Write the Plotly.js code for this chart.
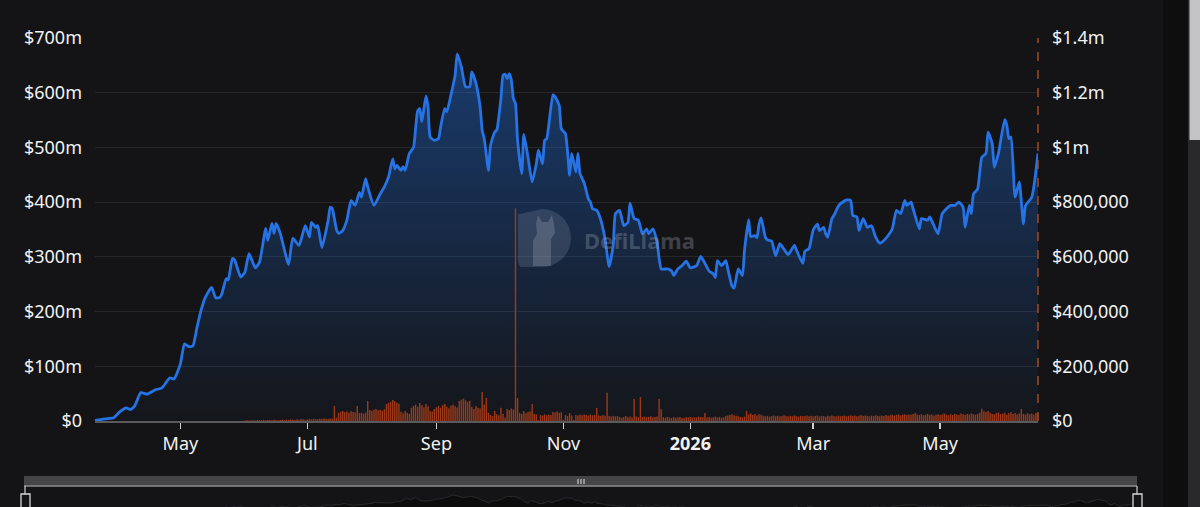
<!DOCTYPE html>
<html>
<head>
<meta charset="utf-8">
<script src="https://cdn.plot.ly/plotly-3.0.1.min.js"></script>
<style>
  html, body { margin: 0; padding: 0; background: #141416; overflow: hidden; }
  #chart { width: 1200px; height: 507px; }
</style>
</head>
<body>
<div id="chart"></div>
<script>
// ---------- DATA ----------
// TVL (in $ millions)
const tvlDates = [
  '2025-03-21','2025-03-26','2025-03-30','2025-04-02','2025-04-05','2025-04-07','2025-04-09','2025-04-12','2025-04-15','2025-04-19','2025-04-22','2025-04-26','2025-04-28',
  '2025-05-01','2025-05-03','2025-05-05','2025-05-07','2025-05-09','2025-05-11','2025-05-13','2025-05-16','2025-05-18','2025-05-20','2025-05-21','2025-05-23','2025-05-24','2025-05-26','2025-05-27','2025-05-30',
  '2025-06-01','2025-06-03','2025-06-06','2025-06-08','2025-06-11','2025-06-12','2025-06-14','2025-06-15','2025-06-16','2025-06-18','2025-06-22','2025-06-24','2025-06-27','2025-06-30',
  '2025-07-02','2025-07-03','2025-07-05','2025-07-06','2025-07-08','2025-07-11','2025-07-12','2025-07-13','2025-07-15','2025-07-16','2025-07-18','2025-07-20','2025-07-22','2025-07-24','2025-07-26','2025-07-27','2025-07-29','2025-07-30',
  '2025-08-02','2025-08-05','2025-08-07','2025-08-09','2025-08-11','2025-08-12','2025-08-13','2025-08-15','2025-08-16','2025-08-17','2025-08-19','2025-08-21','2025-08-22','2025-08-23','2025-08-24','2025-08-25','2025-08-27','2025-08-28','2025-08-29','2025-08-31',
  '2025-09-02','2025-09-03','2025-09-05','2025-09-06','2025-09-08','2025-09-10','2025-09-11','2025-09-13','2025-09-15','2025-09-17','2025-09-18','2025-09-20','2025-09-22','2025-09-23','2025-09-24','2025-09-26','2025-09-27','2025-09-29','2025-09-30',
  '2025-10-02','2025-10-03','2025-10-04','2025-10-05','2025-10-06','2025-10-07','2025-10-08','2025-10-09','2025-10-10','2025-10-12','2025-10-13','2025-10-15','2025-10-17','2025-10-19','2025-10-20','2025-10-22','2025-10-23','2025-10-24','2025-10-27','2025-10-28','2025-10-30','2025-10-31',
  '2025-11-02','2025-11-04','2025-11-05','2025-11-07','2025-11-08','2025-11-09','2025-11-11','2025-11-13','2025-11-14','2025-11-15','2025-11-17','2025-11-19','2025-11-21','2025-11-23','2025-11-25','2025-11-26','2025-11-28','2025-11-30',
  '2025-12-02','2025-12-03','2025-12-05','2025-12-07','2025-12-09','2025-12-11','2025-12-12','2025-12-14','2025-12-16','2025-12-18','2025-12-21','2025-12-23','2025-12-24','2025-12-26','2025-12-28','2025-12-30',
  '2026-01-01','2026-01-04','2026-01-06','2026-01-08','2026-01-10','2026-01-12','2026-01-13','2026-01-14','2026-01-16','2026-01-18','2026-01-19','2026-01-21','2026-01-22','2026-01-24','2026-01-26','2026-01-27','2026-01-29','2026-01-30',
  '2026-02-01','2026-02-02','2026-02-03','2026-02-04','2026-02-06','2026-02-07','2026-02-09','2026-02-11','2026-02-13','2026-02-16','2026-02-17','2026-02-20','2026-02-21','2026-02-24','2026-02-25','2026-02-27',
  '2026-03-01','2026-03-03','2026-03-04','2026-03-06','2026-03-07','2026-03-08','2026-03-10','2026-03-11','2026-03-13','2026-03-14','2026-03-17','2026-03-19','2026-03-20','2026-03-22','2026-03-23','2026-03-25','2026-03-27','2026-03-29','2026-03-31',
  '2026-04-02','2026-04-04','2026-04-06','2026-04-08','2026-04-10','2026-04-12','2026-04-14','2026-04-15','2026-04-17','2026-04-18','2026-04-21','2026-04-22','2026-04-25','2026-04-26','2026-04-28','2026-04-30',
  '2026-05-02','2026-05-04','2026-05-06','2026-05-08','2026-05-10','2026-05-12','2026-05-13','2026-05-15','2026-05-16','2026-05-17','2026-05-19','2026-05-21','2026-05-23','2026-05-24','2026-05-26','2026-05-27','2026-05-29',
  '2026-06-01','2026-06-02','2026-06-03','2026-06-04','2026-06-06','2026-06-08','2026-06-10','2026-06-11','2026-06-14','2026-06-17'
];
const tvlMillions = [
  1,4,6,17,24,21,27,52,49,57,60,79,77,
  104,141,136,137,171,203,226,244,225,226,233,260,258,297,295,263,
  272,306,280,290,352,330,361,343,361,343,286,334,321,357,
  336,363,354,357,317,367,391,388,350,343,348,367,403,394,418,409,443,428,
  394,415,428,446,479,461,467,458,465,458,489,500,534,567,571,547,594,574,519,513,
  516,537,571,565,596,632,671,647,611,611,638,617,574,531,516,458,504,528,532,
  589,632,634,626,635,623,589,580,513,452,524,482,437,470,495,470,513,516,596,593,577,534,
  525,449,489,455,489,452,435,406,400,388,385,367,333,282,324,379,385,357,
  363,398,370,367,342,351,342,351,327,278,278,274,266,278,284,292,
  280,284,301,288,274,269,262,293,284,293,278,247,243,278,266,312,368,337,
  339,335,360,371,336,331,329,302,324,308,304,321,312,288,310,315,
  349,360,348,354,342,336,370,376,392,397,404,403,376,373,348,370,354,357,336,
  325,330,339,351,385,379,403,394,400,388,351,370,367,373,357,342,
  379,388,394,394,400,391,354,394,379,415,424,482,489,528,507,464,489,
  551,541,516,519,409,437,360,394,409,489
];

// Daily bars (in $ thousands), right axis, starting 2025-06-01
const feeStart = '2025-06-01';
const feeThousands = [
  2,3,2,3,3,2,4,3,3,4, 3,4,4,3,5,4,3,4,5,4, 5,4,6,5,4,6,5,7,6,5, 6,7,6,8,7,6,8,7,9,8,
  7,9,8, 55, 12,30,34,37,32,35,30,36,33,31, 55, 29,30,27,31, 73,
  40,37,42,44,39,41,38,43, 62,66,70,77,72,68,63, 34,28,37,30,26,
  48,55,60,52,66,58,50,62,54, 37,35, 44,50,55,48,58,62,52,47,56,60,54,49,
  73,78,82,76,70,74, 52,44,55,48,46, 106,60,84, 30,22,18,37,25,20, 48,26,12,
  44,40,46,42, 777,84, 30,26,37,28,33,35, 62,26,24,3, 22,20,24,21,23,22,
  33,31,35,30,32,4, 22,18,29,20,4, 22,20,23,21,24,22,20,23,21,22,
  48,20,18,22,19, 103,18,16,19,17,18,15, 12,15,18,14,16,13, 80,16,14,
  88,15,16,14,15,17,14,15,16, 80,43,
  14,12,15,13,11,14,12,13,15,11,12,14,13,15,12,14,13,16,15,14, 29,
  13,15,12,14,16,13,15,12,14,18,20,22,25,21,19,17,15,14,16, 37,
  24,28,22,26,20,25,23,19,
  17,19,16,18,20,17,19,16,18,21, 18,16,19,17,20,18,16,19,17,18,
  20,17,19,16,18,20,17,19,18,16, 19,17,20,18,16,19,17,18,20,17,
  19,21,18,20,17,19,22,18,20,19, 17,20,18,21,19,17,20,18,22,19,
  21,23,20,22,24,21,23,25,22,24, 23,26, 29,
  24,22,25,21,23,26,22,24,20,23, 25,22,24,27,23,21,25,22,26,24,
  23,27,25,22,26,24,28,25,23,26,
  30,45,36,33,37,30,
  26,24,29,31,25,27,30,23,28,32,26,29,24,27,
  44,26,24,28,25,27,23,29,26
];

// Axis ticks
const xTickVals = ['2025-05-01','2025-07-01','2025-09-01','2025-11-01','2026-01-01','2026-03-01','2026-05-01'];
const xTickText = ['May','Jul','Sep','Nov','<b>2026</b>','Mar','May'];
const leftTickVals = [0,100e6,200e6,300e6,400e6,500e6,600e6,700e6];
const leftTickText = ['$0','$100m','$200m','$300m','$400m','$500m','$600m','$700m'];
const rightTickVals = [0,200e3,400e3,600e3,800e3,1e6,1.2e6,1.4e6];
const rightTickText = ['$0','$200,000','$400,000','$600,000','$800,000','$1m','$1.2m','$1.4m'];
const xRange = ['2025-03-21','2026-06-17'];

// ---------- BUILD ----------
const tvlY = tvlMillions.map(v => v * 1e6);
const feeY = feeThousands.map(v => v * 1e3);
const feeX = feeThousands.map((_, i) => {
  const d = new Date(feeStart + 'T00:00:00Z');
  d.setUTCDate(d.getUTCDate() + i);
  return d.toISOString().slice(0, 10);
});

const W = 1200, H = 507;
const fx = x => x / W;
const fy = y => (H - y) / H;
const BG = '#141416';
const FONT = 'Noto Sans, Open Sans, sans-serif';

const traces = [
  {
    type: 'scatter', mode: 'lines',
    x: tvlDates, y: tvlY, xaxis: 'x', yaxis: 'y',
    line: { color: '#2673e6', width: 2.8, shape: 'spline', smoothing: 0.5 },
    fill: 'tozeroy',
    fillgradient: { type: 'vertical', colorscale: [[0, 'rgba(33,114,229,0.02)'], [1, 'rgba(33,114,229,0.42)']] },
    hoverinfo: 'skip'
  },
  {
    type: 'bar',
    x: feeX, y: feeY, xaxis: 'x', yaxis: 'y2',
    marker: { color: 'rgba(168,60,26,0.9)', line: { width: 0 } },
    hoverinfo: 'skip'
  },
  {
    type: 'scatter', mode: 'lines',
    x: tvlDates, y: tvlY, xaxis: 'x2', yaxis: 'y3',
    line: { color: '#2c2c2f', width: 1, shape: 'spline', smoothing: 0.5 },
    fill: 'tozeroy', fillcolor: '#0c0c0d',
    hoverinfo: 'skip'
  }
];

function rect(x0, y0, x1, y1, fill, line) {
  return { type: 'rect', xref: 'paper', yref: 'paper', x0: fx(x0), x1: fx(x1), y0: fy(y1), y1: fy(y0),
    fillcolor: fill, line: line || { width: 0 }, layer: 'above' };
}
function seg(x0, y0, x1, y1, color, width) {
  return { type: 'line', xref: 'paper', yref: 'paper', x0: fx(x0), x1: fx(x1), y0: fy(y0), y1: fy(y1),
    line: { color: color, width: width }, layer: 'above' };
}
function path(points, fill) {
  const d = points.map((p, i) => (i ? 'L' : 'M') + fx(p[0]).toFixed(5) + ',' + fy(p[1]).toFixed(5)).join(' ') + ' Z';
  return { type: 'path', xref: 'paper', yref: 'paper', path: d, fillcolor: fill, line: { width: 0 }, layer: 'above' };
}

// watermark logo (D shape)
const logoPts = [];
const cx = 542, cy = 238, r = 29;
logoPts.push([520, 214]);
for (let a = -90; a <= 90; a += 10) {
  const t = a * Math.PI / 180;
  logoPts.push([cx + r * Math.cos(t), cy + r * Math.sin(t)]);
}
logoPts.push([520, 267]);
logoPts.push([518, 262]);
logoPts.push([518, 214]);

const shapes = [
  // dashed right-axis line
  { type: 'line', xref: 'x domain', yref: 'y domain', x0: 1, x1: 1, y0: 0, y1: 1,
    line: { color: '#a34a26', width: 1.5, dash: 'dash' }, layer: 'above' },
  // watermark
  path(logoPts, 'rgba(150,160,180,0.22)'),
  path([[536,224],[538,215],[542,222],[548,222],[552,215],[554,224],[555,233],[551,239],[551,266],[533,266],[533,241],[537,234]], 'rgba(190,198,212,0.22)'),
  // data zoom slider
  rect(24, 476, 1137, 486, '#454547'),
  seg(24, 486, 1137, 486, '#8d8d8f', 1.5),
  seg(578, 479, 578, 484, '#e6e6e6', 1),
  seg(581, 479, 581, 484, '#e6e6e6', 1),
  seg(584, 479, 584, 484, '#e6e6e6', 1),
  seg(25, 486, 25, 494, '#d0d0d0', 1.2),
  rect(21, 494, 30, 512, '#141416', { color: '#d6d6d6', width: 1.3 }),
  seg(1137, 486, 1137, 494, '#d0d0d0', 1.2),
  rect(1133, 494, 1142, 512, '#141416', { color: '#d6d6d6', width: 1.3 }),
  // page side strip + scrollbar
  rect(1163, 0, 1188, 507, '#0e0e0f'),
  rect(1188, 0, 1200, 507, '#29292b'),
  rect(1189.5, -5, 1200, 140, '#c3c3c5')
];

const annotations = [
  { xref: 'paper', yref: 'paper', x: fx(582), y: fy(240), xanchor: 'left', yanchor: 'middle',
    text: '<b>DefiLlama</b>', showarrow: false,
    font: { family: FONT, size: 22, color: 'rgba(160,166,182,0.33)' } }
];

const tickFont = { family: FONT, size: 18, color: '#f2f2f2' };

const layout = {
  width: W, height: H,
  margin: { l: 0, r: 0, t: 0, b: 0, pad: 0 },
  paper_bgcolor: BG, plot_bgcolor: BG,
  showlegend: false, hovermode: false,
  bargap: 0.3,
  font: { family: FONT, color: '#f2f2f2' },
  xaxis: {
    type: 'date', domain: [fx(95), fx(1038)], anchor: 'y', range: xRange,
    tickvals: xTickVals, ticktext: xTickText, tickfont: tickFont,
    ticks: 'outside', ticklen: 6, tickwidth: 1.5, tickcolor: '#d0d0d0',
    showline: true, linecolor: '#5a5a5c', linewidth: 1.5,
    showgrid: false, zeroline: false, fixedrange: true
  },
  yaxis: {
    domain: [fy(421), fy(38)], anchor: 'x', range: [0, 700e6],
    tickvals: leftTickVals, ticktext: leftTickText, tickfont: tickFont,
    ticks: '', ticklabelstandoff: 12,
    showgrid: true, gridcolor: '#27272a', gridwidth: 1,
    zeroline: false, showline: false, fixedrange: true
  },
  yaxis2: {
    overlaying: 'y', side: 'right', anchor: 'x', range: [0, 1.4e6],
    tickvals: rightTickVals, ticktext: rightTickText, tickfont: tickFont,
    ticks: '', ticklabelstandoff: 13,
    showgrid: false, zeroline: false, showline: false, fixedrange: true
  },
  xaxis2: {
    type: 'date', domain: [fx(25), fx(1137)], anchor: 'y3', range: xRange,
    visible: false, fixedrange: true
  },
  yaxis3: {
    domain: [0, fy(487)], anchor: 'x2', range: [350e6, 885e6],
    visible: false, fixedrange: true
  },
  shapes: shapes,
  annotations: annotations
};

Plotly.newPlot('chart', traces, layout, { displayModeBar: false, staticPlot: true });
</script>
</body>
</html>
